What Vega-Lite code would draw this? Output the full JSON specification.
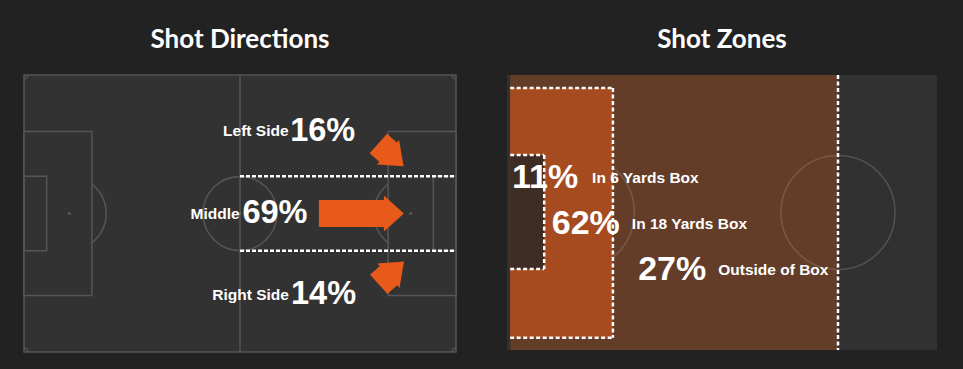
{
  "$schema": "https://vega.github.io/schema/vega-lite/v6.json",
  "background": "#222222",
  "padding": {"left": 23, "top": 26, "right": 26, "bottom": 18},
  "spacing": 49,
  "config": {
    "view": {"stroke": null},
    "axis": {"disable": true},
    "title": {"font": "Lato", "fontSize": 26, "fontWeight": "bold", "color": "#ffffff", "anchor": "middle", "offset": 21, "baseline": "alphabetic"}
  },
  "datasets": {
    "pitchL": [{"x": 0, "y": 0, "x2": 105, "y2": 68}],
    "halfL": [{"x": 52.5, "y": 0, "y2": 68}],
    "centerL": [{"x": 52.5, "y": 34}],
    "penSpotsL": [{"x": 11, "y": 34}, {"x": 94, "y": 34}],
    "spotsL": [{"x": 11, "y": 34}, {"x": 94, "y": 34}, {"x": 52.5, "y": 34}],
    "boxesL": [{"x": 0, "y": 13.84, "x2": 16.5, "y2": 54.16}, {"x": 88.5, "y": 13.84, "x2": 105, "y2": 54.16}],
    "sixL": [{"x": 0, "y": 24.84, "x2": 5.5, "y2": 43.16}, {"x": 99.5, "y": 24.84, "x2": 105, "y2": 43.16}],
    "cornersL": [{"x": 0, "y": 0}, {"x": 105, "y": 0}, {"x": 0, "y": 68}, {"x": 105, "y": 68}],
    "dashL": [{"x": 52.5, "x2": 105, "y": 24.84}, {"x": 52.5, "x2": 105, "y": 43.16}],
    "directions": [
      {"side": "Left Side", "share": 0.16, "x": 89.2, "y": 19.6, "lx": 64.3, "ly": 15.0, "vx": 64.7, "vy": 16.3},
      {"side": "Middle", "share": 0.69, "x": 82.0, "y": 34.0, "lx": 52.4, "ly": 35.3, "vx": 53.1, "vy": 36.3},
      {"side": "Right Side", "share": 0.14, "x": 89.3, "y": 48.6, "lx": 64.4, "ly": 55.2, "vx": 64.9, "vy": 56.2}
    ],
    "pitchR": [{"x": 0, "y": 0, "x2": 68.2, "y2": 68}],
    "outsideR": [{"x": 0.5, "y": 0, "x2": 52.5, "y2": 68}],
    "boxR": [{"x": 0.5, "y": 3.2, "x2": 16.8, "y2": 65.0}],
    "sixR": [{"x": 0.5, "y": 19.8, "x2": 5.9, "y2": 48.0}],
    "penArcR": [{"x": 11, "y": 34}],
    "centerR": [{"x": 52.5, "y": 34}],
    "dashR": [
      {"x": 0.5, "x2": 16.8, "y": 3.2, "y2": 3.2},
      {"x": 0.5, "x2": 16.8, "y": 65.0, "y2": 65.0},
      {"x": 16.8, "x2": 16.8, "y": 3.2, "y2": 65.0},
      {"x": 0.5, "x2": 5.9, "y": 19.8, "y2": 19.8},
      {"x": 0.5, "x2": 5.9, "y": 48.0, "y2": 48.0},
      {"x": 5.9, "x2": 5.9, "y": 19.8, "y2": 48.0},
      {"x": 52.5, "x2": 52.5, "y": 0, "y2": 68}
    ],
    "zones": [
      {"zone": "In 6 Yards Box", "share": 0.11, "vx": 0.8, "vy": 27.9, "lx": 13.5, "ly": 26.7},
      {"zone": "In 18 Yards Box", "share": 0.62, "vx": 7.1, "vy": 39.2, "lx": 19.8, "ly": 38.1},
      {"zone": "Outside of Box", "share": 0.27, "vx": 20.8, "vy": 50.7, "lx": 33.5, "ly": 49.5}
    ]
  },
  "hconcat": [
    {
      "title": "Shot Directions",
      "width": 432,
      "height": 277,
      "encoding": {
        "x": {"field": "x", "type": "quantitative", "scale": {"domain": [0, 105], "nice": false, "zero": false}, "axis": null},
        "y": {"field": "y", "type": "quantitative", "scale": {"domain": [0, 68], "nice": false, "zero": false, "reverse": true}, "axis": null}
      },
      "layer": [
        {"data": {"name": "pitchL"}, "mark": {"type": "rect", "fill": "#323232", "stroke": "#565656", "strokeWidth": 1.5}, "encoding": {"x2": {"field": "x2"}, "y2": {"field": "y2"}}},
        {"data": {"name": "halfL"}, "mark": {"type": "rule", "color": "#565656", "strokeWidth": 1.5}, "encoding": {"y2": {"field": "y2"}}},
        {"data": {"name": "centerL"}, "mark": {"type": "point", "shape": "circle", "filled": false, "size": 5476, "stroke": "#565656", "strokeWidth": 1.5, "opacity": 1}},
        {"data": {"name": "penSpotsL"}, "mark": {"type": "point", "shape": "circle", "filled": false, "size": 5476, "stroke": "#565656", "strokeWidth": 1.5, "opacity": 1}},
        {"data": {"name": "boxesL"}, "mark": {"type": "rect", "fill": "#323232", "stroke": "#565656", "strokeWidth": 1.5}, "encoding": {"x2": {"field": "x2"}, "y2": {"field": "y2"}}},
        {"data": {"name": "sixL"}, "mark": {"type": "rect", "filled": false, "color": "#565656", "strokeWidth": 1.5}, "encoding": {"x2": {"field": "x2"}, "y2": {"field": "y2"}}},
        {"data": {"name": "spotsL"}, "mark": {"type": "point", "shape": "circle", "filled": true, "size": 7, "color": "#666666", "opacity": 1}},
        {"data": {"name": "cornersL"}, "mark": {"type": "point", "shape": "circle", "filled": false, "size": 64, "stroke": "#565656", "strokeWidth": 1.5, "opacity": 1, "clip": true}},
        {"data": {"name": "dashL"}, "mark": {"type": "rule", "color": "#ffffff", "strokeWidth": 2.5, "strokeDash": [4, 2]}, "encoding": {"x2": {"field": "x2"}}},
        {"data": {"name": "directions"}, "transform": [{"filter": "datum.side === 'Middle'"}], "mark": {"type": "point", "shape": "M-1,-0.318 L0.53,-0.318 L0.53,-0.424 L1,0 L0.53,0.424 L0.53,0.318 L-1,0.318 Z", "filled": true, "size": 7225, "color": "#E85A19", "opacity": 1, "strokeWidth": 0}},
        {"data": {"name": "directions"}, "transform": [{"filter": "datum.side === 'Left Side'"}], "mark": {"type": "point", "shape": "M-1,-0.765 L-0.235,-0.765 L-0.235,-0.97 L1,0 L-0.235,0.97 L-0.235,0.765 L-1,0.765 Z", "filled": true, "size": 1156, "angle": 42, "color": "#E85A19", "opacity": 1, "strokeWidth": 0}},
        {"data": {"name": "directions"}, "transform": [{"filter": "datum.side === 'Right Side'"}], "mark": {"type": "point", "shape": "M-1,-0.765 L-0.235,-0.765 L-0.235,-0.97 L1,0 L-0.235,0.97 L-0.235,0.765 L-1,0.765 Z", "filled": true, "size": 1156, "angle": -42, "color": "#E85A19", "opacity": 1, "strokeWidth": 0}},
        {"data": {"name": "directions"}, "mark": {"type": "text", "align": "right", "baseline": "alphabetic", "font": "Liberation Sans", "fontWeight": "bold", "fontSize": 15.5, "color": "#ffffff"}, "encoding": {"x": {"field": "lx", "type": "quantitative"}, "y": {"field": "ly", "type": "quantitative"}, "text": {"field": "side"}}},
        {"data": {"name": "directions"}, "mark": {"type": "text", "align": "left", "baseline": "alphabetic", "font": "Liberation Sans", "fontWeight": "bold", "fontSize": 32.5, "color": "#ffffff"}, "encoding": {"x": {"field": "vx", "type": "quantitative"}, "y": {"field": "vy", "type": "quantitative"}, "text": {"field": "share", "type": "quantitative", "format": ".0%"}}}
      ]
    },
    {
      "title": "Shot Zones",
      "width": 430,
      "height": 275,
      "encoding": {
        "x": {"field": "x", "type": "quantitative", "scale": {"domain": [0, 68.2], "nice": false, "zero": false}, "axis": null},
        "y": {"field": "y", "type": "quantitative", "scale": {"domain": [0, 68], "nice": false, "zero": false, "reverse": true}, "axis": null}
      },
      "layer": [
        {"data": {"name": "pitchR"}, "mark": {"type": "rect", "fill": "#313131"}, "encoding": {"x2": {"field": "x2"}, "y2": {"field": "y2"}}},
        {"data": {"name": "outsideR"}, "mark": {"type": "rect", "fill": "#633D28"}, "encoding": {"x2": {"field": "x2"}, "y2": {"field": "y2"}}},
        {"data": {"name": "penArcR"}, "mark": {"type": "point", "shape": "circle", "filled": false, "size": 13456, "stroke": "#a0a0a0", "strokeOpacity": 0.3, "strokeWidth": 1.5, "opacity": 1}},
        {"data": {"name": "boxR"}, "mark": {"type": "rect", "fill": "#A54B1F"}, "encoding": {"x2": {"field": "x2"}, "y2": {"field": "y2"}}},
        {"data": {"name": "sixR"}, "mark": {"type": "rect", "fill": "#3E2D25"}, "encoding": {"x2": {"field": "x2"}, "y2": {"field": "y2"}}},
        {"data": {"name": "centerR"}, "mark": {"type": "point", "shape": "circle", "filled": false, "size": 12996, "stroke": "#a0a0a0", "strokeOpacity": 0.3, "strokeWidth": 1.5, "opacity": 1}},
        {"data": {"name": "dashR"}, "mark": {"type": "rule", "color": "#ffffff", "strokeWidth": 2.5, "strokeDash": [4, 2.5]}, "encoding": {"x2": {"field": "x2"}, "y2": {"field": "y2"}}},
        {"data": {"name": "zones"}, "mark": {"type": "text", "align": "left", "baseline": "alphabetic", "font": "Liberation Sans", "fontWeight": "bold", "fontSize": 34, "color": "#ffffff"}, "encoding": {"x": {"field": "vx", "type": "quantitative"}, "y": {"field": "vy", "type": "quantitative"}, "text": {"field": "share", "type": "quantitative", "format": ".0%"}}},
        {"data": {"name": "zones"}, "mark": {"type": "text", "align": "left", "baseline": "alphabetic", "font": "Liberation Sans", "fontWeight": "bold", "fontSize": 15.5, "color": "#ffffff"}, "encoding": {"x": {"field": "lx", "type": "quantitative"}, "y": {"field": "ly", "type": "quantitative"}, "text": {"field": "zone"}}}
      ]
    }
  ]
}
